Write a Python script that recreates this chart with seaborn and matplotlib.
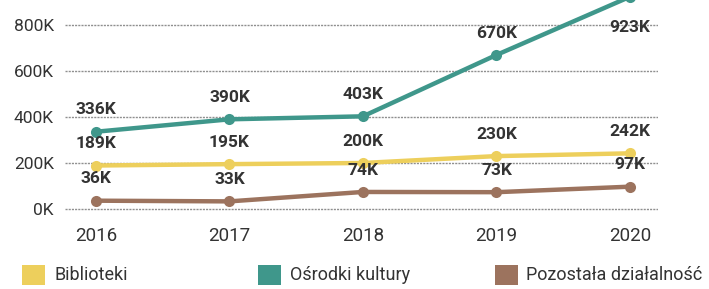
import matplotlib
matplotlib.use("Agg")
import matplotlib.pyplot as plt
import seaborn as sns
import pandas as pd
from matplotlib.patches import Rectangle

years = [2016, 2017, 2018, 2019, 2020]
biblioteki = [189000, 195000, 200000, 230000, 242000]
osrodki = [336000, 390000, 403000, 670000, 923000]
pozostala = [36000, 33000, 74000, 73000, 97000]
series_names = ["Biblioteki", "Ośrodki kultury", "Pozostała działalność"]
colors = ["#EDCF5C", "#3F978B", "#9C735E"]
yticks = [0, 200000, 400000, 600000, 800000]
ytick_labels = ["0K", "200K", "400K", "600K", "800K"]

df = pd.DataFrame({
    "year": years * 3,
    "value": biblioteki + osrodki + pozostala,
    "series": [series_names[0]] * 5 + [series_names[1]] * 5 + [series_names[2]] * 5,
})

sns.set_style("white")
plt.rcParams["font.family"] = ["Roboto", "DejaVu Sans"]

W, H = 709, 289
fig = plt.figure(figsize=(W / 100, H / 100), dpi=100)
ax = fig.add_axes([65 / W, 1 - 220 / H, (658 - 65) / W, 220 / H])

sns.lineplot(data=df, x="year", y="value", hue="series", palette=colors,
             hue_order=series_names, marker="o", markersize=8, linewidth=3.2,
             markeredgewidth=0, ax=ax, legend=False, zorder=3)

ax.set_xlim(2015.768, 2020.21)
ax.set_ylim(-48000, 909000)
ax.set_yticks(yticks)
ax.set_yticklabels(ytick_labels)
ax.set_xticks(years)
ax.set_xticklabels([str(y) for y in years])
ax.tick_params(axis="both", length=0, labelsize=12.5, colors="#333333")
ax.tick_params(axis="y", pad=8)
ax.tick_params(axis="x", pad=5)
for lbl in ax.get_xticklabels():
    lbl.set_fontsize(13.5)
ax.set_xlabel("")
ax.set_ylabel("")
for s in ax.spines.values():
    s.set_visible(False)
ax.yaxis.grid(True, linestyle=(0, (1.5, 0.8)), color="#8f8f8f", linewidth=1.0)
ax.set_axisbelow(True)

def fmt(v):
    return f"{int(round(v / 1000))}K"

top = 909000
for vals in [biblioteki, osrodki, pozostala]:
    for x, v in zip(years, vals):
        ly = v + 95000
        if ly > top - 40000:
            ly = 790000
        ax.text(x, ly, fmt(v), ha="center", va="center", fontsize=12.5,
                fontweight="bold", color="#333333", zorder=4, clip_on=False)

# legend, drawn as squares with labels
sq_x = [22, 258, 495]
txt_x = [54, 290, 526]
ly_c = 275
for sx, tx, c, name in zip(sq_x, txt_x, colors, series_names):
    fig.add_artist(Rectangle((sx / W, 1 - (ly_c + 10) / H), 23 / W, 20 / H,
                             transform=fig.transFigure, facecolor=c, edgecolor="none"))
    fig.text(tx / W, 1 - ly_c / H, name, ha="left", va="center", fontsize=13,
             color="#333333")

fig.savefig("out.png", dpi=100)
